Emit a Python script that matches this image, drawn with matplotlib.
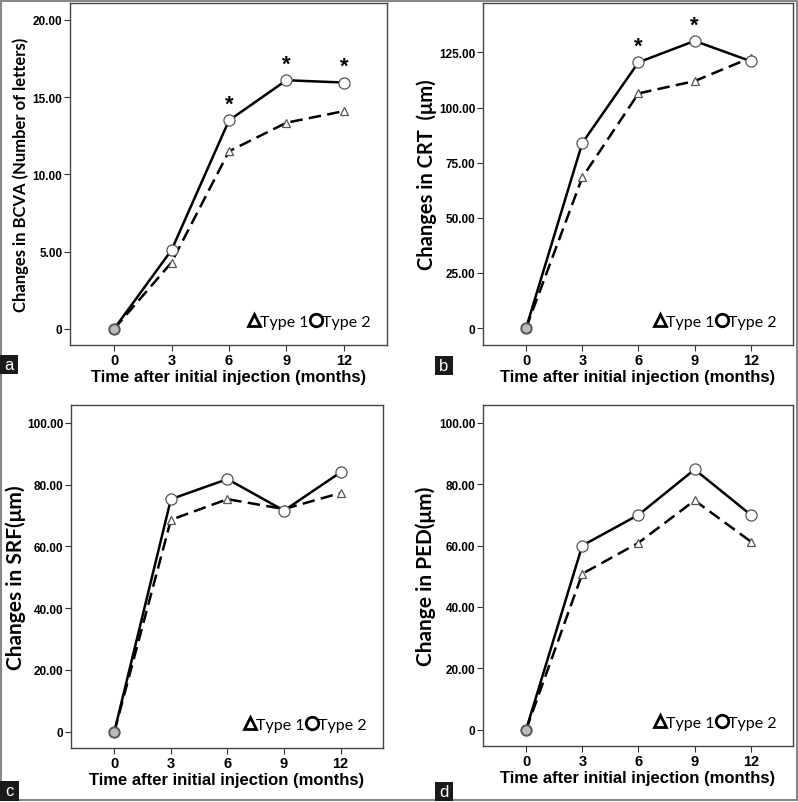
import matplotlib
matplotlib.use("Agg")
import matplotlib.pyplot as plt
from matplotlib.lines import Line2D
from matplotlib.patches import Rectangle

# months after first injection
months = [0, 3, 6, 9, 12]

# panel a: BCVA (letters)
bcva_t1 = [0, 4.3, 11.5, 13.35, 14.1]
bcva_t2 = [0, 5.1, 13.5, 16.1, 15.95]
bcva_star = [6, 9, 12]

# panel b: CRT (um)
crt_t1 = [0, 68.3, 106.4, 112.0, 122.6]
crt_t2 = [0, 83.9, 120.5, 130.2, 121.0]
crt_star = [6, 9]

# panel c: SRF (um)
srf_t1 = [0, 68.6, 75.3, 72.1, 77.3]
srf_t2 = [0, 75.3, 81.8, 71.6, 84.0]

# panel d: PED (um)
ped_t1 = [0, 50.8, 60.9, 74.7, 61.3]
ped_t2 = [0, 60.0, 70.0, 84.8, 70.0]

W, H = 798, 803
fig = plt.figure(figsize=(W / 100, H / 100), dpi=100)

def px_axes(x0, y0, x1, y1):
    return fig.add_axes([x0 / W, 1 - y1 / H, (x1 - x0) / W, (y1 - y0) / H])

panels = [
    dict(box=(70, 4, 387, 346), t1=bcva_t1, t2=bcva_t2, star=bcva_star,
         ylim=(-1.04, 21.1), yticks=[0, 5, 10, 15, 20],
         ylabel="Changes in BCVA (Number of letters)", ysize=12, lab_x=-0.128,
         tag="a", tag_box=(0, 356, 18, 375)),
    dict(box=(483, 4, 793, 346), t1=crt_t1, t2=crt_t2, star=crt_star,
         ylim=(-7.7, 147.4), yticks=[0, 25, 50, 75, 100, 125],
         ylabel="Changes in CRT  (\u03bcm)", ysize=14.5, lab_x=-0.148,
         tag="b", tag_box=(435, 357, 453, 376)),
    dict(box=(71, 406, 383, 749), t1=srf_t1, t2=srf_t2, star=[],
         ylim=(-5.3, 105.8), yticks=[0, 20, 40, 60, 80, 100],
         ylabel="Changes in SRF(\u03bcm)", ysize=15, lab_x=-0.143,
         tag="c", tag_box=(0, 782, 19, 802)),
    dict(box=(483, 406, 793, 747), t1=ped_t1, t2=ped_t2, star=[],
         ylim=(-5.3, 105.8), yticks=[0, 20, 40, 60, 80, 100],
         ylabel="Change in PED(\u03bcm)", ysize=15, lab_x=-0.15,
         tag="d", tag_box=(435, 783, 453, 802)),
]

def fmt(v):
    return "0" if v == 0 else f"{v:.2f}"

for p in panels:
    ax = px_axes(*p["box"])
    ax.plot(months, p["t1"], color="black", lw=1.8, ls=(0, (5, 2.5)),
            marker="^", ms=6, mfc="white", mec="#555555", mew=0.9, zorder=3)
    ax.plot(months, p["t2"], color="black", lw=1.8, ls="-",
            marker="o", ms=8, mfc="white", mec="#555555", mew=0.9, zorder=4)
    # overlapping start point shows grey
    ax.plot([0], [0], marker="o", ms=7, mfc="#bbbbbb", mec="#555555", mew=0.9, ls="none", zorder=5)
    for m in p["star"]:
        y = p["t2"][months.index(m)]
        ax.annotate("*", (m, y), xytext=(0, 4), textcoords="offset points",
                    ha="center", va="bottom", fontsize=16, fontweight="bold",
                    family="Liberation Sans")
    ax.set_xlim(-2.3, 14.25)
    ax.set_ylim(*p["ylim"])
    ax.set_xticks(months)
    ax.set_xticklabels([str(m) for m in months], fontsize=10.5, fontweight="bold",
                       family="Liberation Sans")
    ax.set_yticks(p["yticks"])
    ax.set_yticklabels([fmt(v) for v in p["yticks"]], fontsize=8.5, fontweight="bold",
                       family="Liberation Sans")
    ax.tick_params(direction="out", length=4, width=0.8, color="#333333", pad=1.5)
    for s in ax.spines.values():
        s.set_color("#444444")
        s.set_linewidth(1.0)
    ax.set_xlabel("Time after initial injection (months)", fontsize=12,
                  fontweight="bold", family="Liberation Sans", labelpad=2)
    ax.set_ylabel(p["ylabel"], fontsize=p["ysize"], fontweight="bold", family="Lato")
    ax.yaxis.set_label_coords(p["lab_x"], 0.5)

    handles = [
        Line2D([], [], ls="none", marker="^", ms=8, mfc="none", mec="black", mew=2),
        Line2D([], [], ls="none", marker="o", ms=9, mfc="none", mec="black", mew=2),
    ]
    ax.legend(handles, ["Type 1", "Type 2"], loc="lower right", ncol=2,
              frameon=False, handlelength=0.6, handletextpad=0.1,
              columnspacing=0.15, borderaxespad=0.6,
              prop={"family": "Lato", "size": 11.5})

    x0, y0, x1, y1 = p["tag_box"]
    fig.patches.append(Rectangle((x0 / W, 1 - y1 / H), (x1 - x0) / W, (y1 - y0) / H,
                                 transform=fig.transFigure, facecolor="#1a1a1a",
                                 edgecolor="none", zorder=10))
    fig.text((x0 + x1) / 2 / W, 1 - (y0 + y1) / 2 / H, p["tag"], color="white",
             ha="center", va="center", fontsize=12, family="Liberation Sans", zorder=11)

# thin grey frame round the whole figure
fig.patches.append(Rectangle((0.001, 0.002), 0.998, 0.996, transform=fig.transFigure,
                             facecolor="none", edgecolor="#888888", lw=1.5, zorder=9))

fig.savefig("out.png", dpi=100)
